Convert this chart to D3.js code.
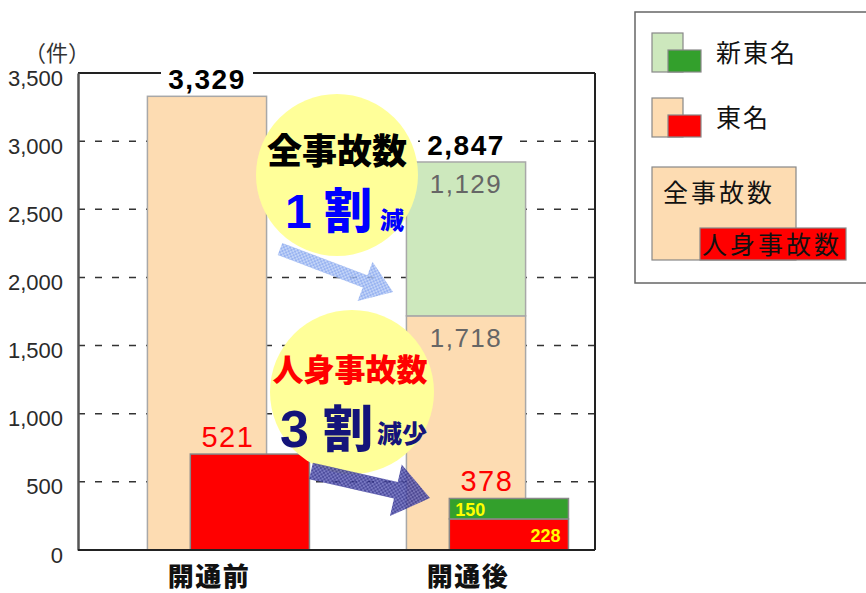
<!DOCTYPE html>
<html>
<head>
<meta charset="utf-8">
<script src="https://cdn.jsdelivr.net/npm/d3@7"></script>
<style>
  body { margin: 0; background: #fff; }
  text { font-family: "Liberation Sans", Arial, sans-serif; }
  .jp { font-family: "Noto Sans CJK JP", sans-serif; }
</style>
</head>
<body>
<script>
var categories = ["開通前", "開通後"];
var totalAll   = [3329, 2847];
var tomeiAll   = [3329, 1718];
var shinAll    = [0, 1129];
var tomeiInj   = [521, 228];
var shinInj    = [0, 150];
var injTotal   = [521, 378];
// the reference draws the 521 bar taller than its value; heights as drawn
var tomeiInjDrawn = [704, 228];
var yTicks = [0, 500, 1000, 1500, 2000, 2500, 3000, 3500];

var W = 866, H = 593,
    m = {left: 78, right: 271, top: 73, bottom: 43};

var svg = d3.select("body").append("svg")
  .attr("width", W)
  .attr("height", H);

var defs = svg.append("defs");
function dotPattern(id, base, dot) {
  var p = defs.append("pattern").attr("id", id)
    .attr("width", 4).attr("height", 4)
    .attr("patternUnits", "userSpaceOnUse");
  p.append("rect").attr("width", 4).attr("height", 4).attr("fill", base);
  p.append("rect").attr("width", 2).attr("height", 2).attr("fill", dot);
  p.append("rect").attr("x", 2).attr("y", 2).attr("width", 2).attr("height", 2).attr("fill", dot);
}
dotPattern("lightArrow", "#86a6ee", "#b8ccf6");
dotPattern("darkArrow", "#2e2e8c", "#6262b8");

var x = d3.scaleBand().domain(categories)
  .range([m.left, W - m.right])
  .paddingInner(0.54).paddingOuter(0.268);
var y = d3.scaleLinear().domain([0, 3500]).range([H - m.bottom, m.top]);

var bw = x.bandwidth(), off = bw * 0.36;

// dashed grid
svg.append("g").selectAll("line").data(yTicks.filter(function (d) { return d > 0 && d < 3500; }))
  .enter().append("line")
  .attr("x1", m.left).attr("x2", W - m.right)
  .attr("y1", function (d) { return y(d); }).attr("y2", function (d) { return y(d); })
  .attr("stroke", "#333").attr("stroke-width", 1.5)
  .attr("stroke-dasharray", "7,10");

// frame
svg.append("line").attr("x1", m.left).attr("x2", W - m.right)
  .attr("y1", y(3500)).attr("y2", y(3500)).attr("stroke", "#222").attr("stroke-width", 2);
svg.append("line").attr("x1", W - m.right).attr("x2", W - m.right)
  .attr("y1", y(3500)).attr("y2", y(0)).attr("stroke", "#222").attr("stroke-width", 2);

// y axis
var yAxis = svg.append("g")
  .attr("transform", "translate(" + m.left + ",0)")
  .call(d3.axisLeft(y).tickValues(yTicks).tickSize(0).tickPadding(15).tickFormat(d3.format(",")));
yAxis.select(".domain").attr("stroke", "#555").attr("stroke-width", 2.5);
yAxis.selectAll("text").attr("font-size", 22).attr("fill", "#2a2a2a")
  .attr("font-family", "Liberation Sans, Arial, sans-serif").attr("dy", "0.55em");

svg.append("text").attr("class", "jp").attr("x", 57).attr("y", 61)
  .attr("text-anchor", "middle").attr("font-size", 22).attr("fill", "#333")
  .text("（件）");

var idx = d3.range(categories.length);

// big bars
svg.append("g").selectAll("rect").data(idx).enter().append("rect")
  .attr("x", function (i) { return x(categories[i]); })
  .attr("width", bw)
  .attr("y", function (i) { return y(tomeiAll[i]); })
  .attr("height", function (i) { return y(0) - y(tomeiAll[i]); })
  .attr("fill", "#fddcb2").attr("stroke", "#a8a8a8").attr("stroke-width", 1.5);
svg.append("g").selectAll("rect").data(idx.filter(function (i) { return shinAll[i] > 0; })).enter().append("rect")
  .attr("x", function (i) { return x(categories[i]); })
  .attr("width", bw)
  .attr("y", function (i) { return y(tomeiAll[i] + shinAll[i]); })
  .attr("height", function (i) { return y(tomeiAll[i]) - y(tomeiAll[i] + shinAll[i]); })
  .attr("fill", "#cde8bd").attr("stroke", "#a8a8a8").attr("stroke-width", 1.5);

// injury bars
svg.append("g").selectAll("rect").data(idx).enter().append("rect")
  .attr("x", function (i) { return x(categories[i]) + off; })
  .attr("width", bw)
  .attr("y", function (i) { return y(tomeiInjDrawn[i]); })
  .attr("height", function (i) { return y(0) - y(tomeiInjDrawn[i]); })
  .attr("fill", "#ff0000").attr("stroke", "#888").attr("stroke-width", 1.5);
svg.append("g").selectAll("rect").data(idx.filter(function (i) { return shinInj[i] > 0; })).enter().append("rect")
  .attr("x", function (i) { return x(categories[i]) + off; })
  .attr("width", bw)
  .attr("y", function (i) { return y(tomeiInjDrawn[i] + shinInj[i]); })
  .attr("height", function (i) { return y(tomeiInjDrawn[i]) - y(tomeiInjDrawn[i] + shinInj[i]); })
  .attr("fill", "#33a02c").attr("stroke", "#888").attr("stroke-width", 1.5);

// bottom axis line
svg.append("line").attr("x1", m.left).attr("x2", W - m.right)
  .attr("y1", y(0)).attr("y2", y(0)).attr("stroke", "#222").attr("stroke-width", 2);

// category labels
svg.append("g").selectAll("text").data(categories).enter().append("text")
  .attr("class", "jp")
  .attr("x", function (d) { return x(d) + bw / 2 + 2; })
  .attr("y", 586)
  .attr("text-anchor", "middle").attr("font-size", 26).attr("font-weight", 900)
  .attr("letter-spacing", 1.5).attr("fill", "#111")
  .text(function (d) { return d; });

// total labels with white box
var fmt = d3.format(",");
var tl = svg.append("g").selectAll("g").data(idx).enter().append("g");
tl.append("rect")
  .attr("x", function (i) { return x(categories[i]) + bw / 2 - 46; })
  .attr("y", function (i) { return y(totalAll[i]) - 30; })
  .attr("width", 92).attr("height", 26).attr("fill", "#fff");
tl.append("text")
  .attr("x", function (i) { return x(categories[i]) + bw / 2; })
  .attr("y", function (i) { return y(totalAll[i]) - 7; })
  .attr("text-anchor", "middle").attr("font-size", 28).attr("font-weight", "bold")
  .attr("letter-spacing", 1.5).attr("fill", "#000")
  .text(function (i) { return fmt(totalAll[i]); });

// segment labels (after)
var segs = [
  {i: 1, v: shinAll[1], top: tomeiAll[1] + shinAll[1]},
  {i: 1, v: tomeiAll[1], top: tomeiAll[1]}
];
svg.append("g").selectAll("text").data(segs).enter().append("text")
  .attr("x", function (d) { return x(categories[d.i]) + bw / 2; })
  .attr("y", function (d) { return y(d.top) + 31; })
  .attr("text-anchor", "middle").attr("font-size", 26)
  .attr("letter-spacing", 1.5).attr("fill", "#666")
  .text(function (d) { return fmt(d.v); });

// injury total labels
svg.append("g").selectAll("text").data(idx).enter().append("text")
  .attr("x", function (i) { return x(categories[i]) + off + bw / 2 - 22; })
  .attr("y", function (i) { return y(tomeiInjDrawn[i] + shinInj[i]) - 7; })
  .attr("text-anchor", "middle").attr("font-size", 29)
  .attr("letter-spacing", 1.5).attr("fill", "#ff0000")
  .text(function (i) { return injTotal[i]; });

// small yellow labels
svg.append("text")
  .attr("x", x(categories[1]) + off + 6)
  .attr("y", y(tomeiInjDrawn[1] + shinInj[1]) + 18)
  .attr("font-size", 18).attr("font-weight", "bold").attr("fill", "#ffff00")
  .text(shinInj[1]);
svg.append("text")
  .attr("x", x(categories[1]) + off + bw - 8)
  .attr("y", y(0) - 8)
  .attr("text-anchor", "end").attr("font-size", 18).attr("font-weight", "bold").attr("fill", "#ffff00")
  .text(tomeiInj[1]);

// callout circles
svg.append("circle").attr("cx", 337).attr("cy", 175).attr("r", 81).attr("fill", "#ffff99");
svg.append("circle").attr("cx", 352).attr("cy", 392).attr("r", 82).attr("fill", "#ffff99");

var c1 = svg.append("g");
c1.append("text").attr("class", "jp").attr("x", 337).attr("y", 164)
  .attr("text-anchor", "middle").attr("font-size", 35).attr("font-weight", 900).attr("fill", "#000")
  .text("全事故数");
c1.append("text").attr("x", 285).attr("y", 228)
  .attr("font-size", 48).attr("font-weight", 900).attr("fill", "#0000ff")
  .text("1");
c1.append("text").attr("class", "jp").attr("x", 324).attr("y", 228)
  .attr("font-size", 48).attr("font-weight", 900).attr("fill", "#0000ff").text("割");
c1.append("text").attr("class", "jp").attr("x", 380).attr("y", 229)
  .attr("font-size", 24).attr("font-weight", 900).attr("fill", "#0000ff").text("減");

var c2 = svg.append("g");
c2.append("text").attr("class", "jp").attr("x", 350).attr("y", 381)
  .attr("text-anchor", "middle").attr("font-size", 31).attr("font-weight", 900).attr("fill", "#ff0000")
  .text("人身事故数");
c2.append("text").attr("x", 280).attr("y", 447)
  .attr("font-size", 52).attr("font-weight", 900).attr("fill", "#14147a").text("3");
c2.append("text").attr("class", "jp").attr("x", 323).attr("y", 447)
  .attr("font-size", 50).attr("font-weight", 900).attr("fill", "#14147a").text("割");
c2.append("text").attr("class", "jp").attr("x", 377).attr("y", 443)
  .attr("font-size", 25).attr("font-weight", 900).attr("fill", "#14147a").text("減少");

// block arrows
function arrowPath(len, sw, hw, hl) {
  return "M0," + (-sw / 2) + "L" + (len - hl) + "," + (-sw / 2) +
    "L" + (len - hl) + "," + (-hw / 2) + "L" + len + ",0L" + (len - hl) + "," + (hw / 2) +
    "L" + (len - hl) + "," + (sw / 2) + "L0," + (sw / 2) + "Z";
}
svg.append("path")
  .attr("transform", "translate(280,249) rotate(20.8)")
  .attr("d", arrowPath(121, 13, 42, 30))
  .attr("fill", "url(#lightArrow)").attr("opacity", 0.85);
svg.append("path")
  .attr("transform", "translate(311,471) rotate(12.8)")
  .attr("d", arrowPath(122, 17, 53, 35))
  .attr("fill", "url(#darkArrow)").attr("opacity", 0.85);

// legend
var lg = svg.append("g");
lg.append("rect").attr("x", 635).attr("y", 12).attr("width", 260).attr("height", 271)
  .attr("fill", "#fff").attr("stroke", "#666").attr("stroke-width", 1.5);
var legendItems = [
  {label: "新東名", light: "#cde8bd", dark: "#33a02c", y: 33},
  {label: "東名", light: "#fddcb2", dark: "#ff0000", y: 98}
];
legendItems.forEach(function (d) {
  lg.append("rect").attr("x", 652).attr("y", d.y).attr("width", 31).attr("height", 39)
    .attr("fill", d.light).attr("stroke", "#888").attr("stroke-width", 1.2);
  lg.append("rect").attr("x", 668).attr("y", d.y + 17).attr("width", 33).attr("height", 22)
    .attr("fill", d.dark).attr("stroke", "#888").attr("stroke-width", 1.2);
  lg.append("text").attr("class", "jp").attr("x", 716).attr("y", d.y + 29)
    .attr("font-size", 25).attr("letter-spacing", 2).attr("fill", "#111").text(d.label);
});
lg.append("rect").attr("x", 652).attr("y", 167).attr("width", 144).attr("height", 93)
  .attr("fill", "#fddcb2").attr("stroke", "#888").attr("stroke-width", 1.2);
lg.append("text").attr("class", "jp").attr("x", 663).attr("y", 202)
  .attr("font-size", 25).attr("letter-spacing", 3).attr("fill", "#111").text("全事故数");
lg.append("rect").attr("x", 700).attr("y", 228).attr("width", 146).attr("height", 32)
  .attr("fill", "#ff0000").attr("stroke", "#888").attr("stroke-width", 1.2);
lg.append("text").attr("class", "jp").attr("x", 702).attr("y", 254)
  .attr("font-size", 25).attr("letter-spacing", 3).attr("fill", "#111").text("人身事故数");
</script>
</body>
</html>
